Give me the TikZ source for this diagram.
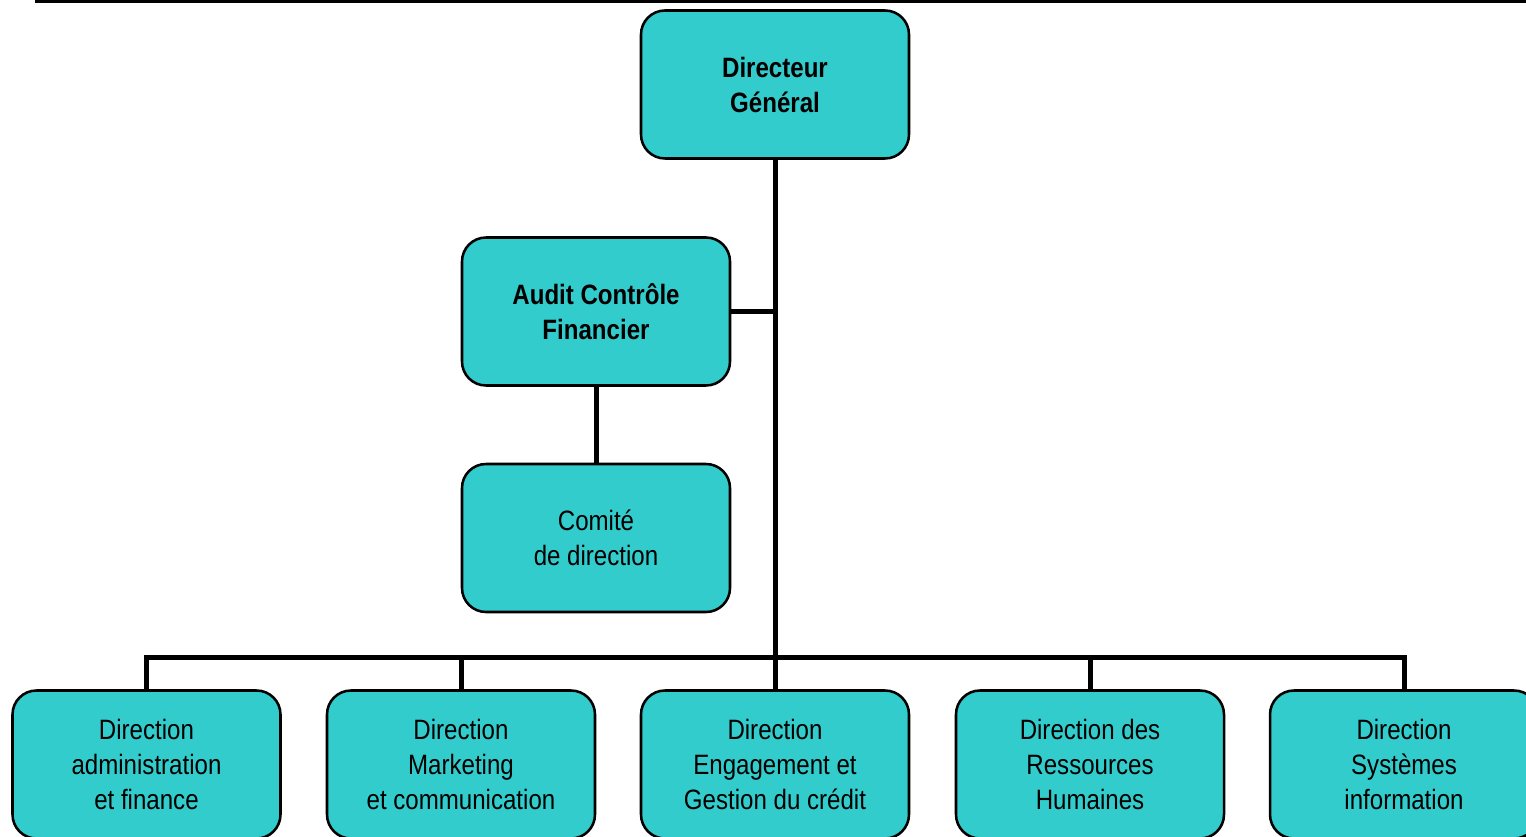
\documentclass[tikz,border=0pt]{standalone}
\usepackage{fontspec}
\setmainfont[FakeStretch=0.86]{Liberation Sans}
\definecolor{boxfill}{RGB}{51,204,204}
\begin{document}
\begin{tikzpicture}[x=0.75pt,y=-0.75pt,
  orgbox/.style={draw=black,fill=boxfill,line width=1.9pt,rounded corners=18pt,
    minimum width=201pt,minimum height=111pt,align=center,inner sep=0pt,
    font=\fontsize{21pt}{26.25pt}\selectfont},
  boldbox/.style={orgbox,font=\bfseries\fontsize{21pt}{26.25pt}\selectfont},
  conn/.style={line width=3.75pt,draw=black}]
\useasboundingbox (0,0) rectangle (1526,837);
\clip (0,0) rectangle (1526,837);
\coordinate (tl) at (35,1.5);
\coordinate (tr) at (1526,1.5);
\draw[line width=2.5pt] (tl) -- (tr);
\node[boldbox] (dg) at (775,84.5) {Directeur\\Général};
\node[boldbox] (audit) at (596,311.5) {Audit Contrôle\\Financier};
\node[orgbox] (comite) at (596,538) {Comité\\de direction};
\node[orgbox] (b1) at (146.5,764.5) {Direction\\administration\\et finance};
\node[orgbox] (b2) at (461,764.5) {Direction\\Marketing\\et communication};
\node[orgbox] (b3) at (775,764.5) {Direction\\Engagement et\\Gestion du crédit};
\node[orgbox] (b4) at (1090,764.5) {Direction des\\Ressources\\Humaines};
\node[orgbox] (b5) at (1404,764.5) {Direction\\Systèmes\\information};
\coordinate (bus) at (775,657);
\draw[conn] (dg.south) -- (b3.north);
\draw[conn] (audit.east) -- (audit.east -| dg.south);
\draw[conn] (audit.south) -- (comite.north);
\draw[conn] (b1.north) |- (bus) -| (b5.north);
\draw[conn] (b2.north) -- (b2.north |- bus);
\draw[conn] (b4.north) -- (b4.north |- bus);
\end{tikzpicture}
\end{document}
